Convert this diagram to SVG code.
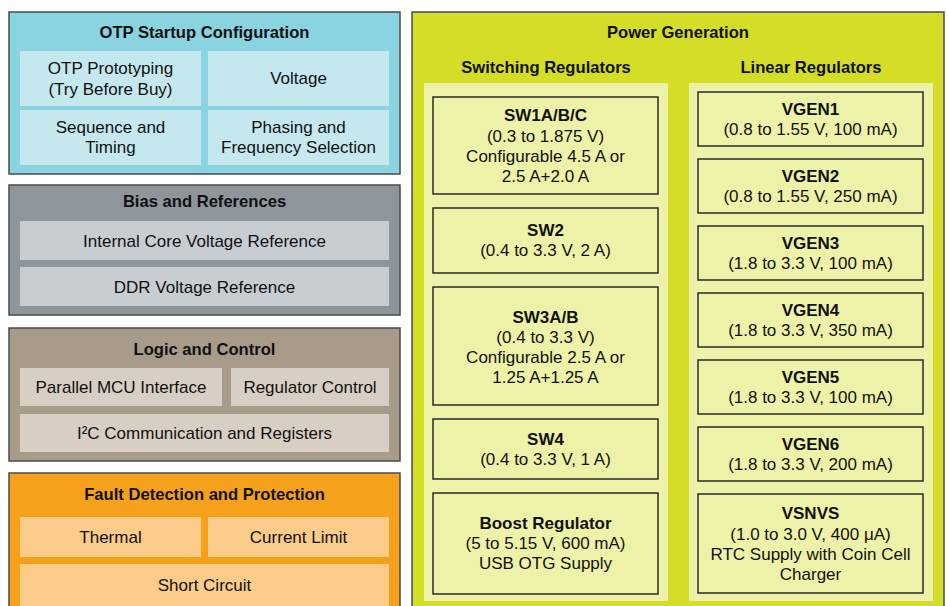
<svg xmlns="http://www.w3.org/2000/svg" width="948" height="606" viewBox="0 0 948 606">
<style>
text{font-family:"Liberation Sans",Arial,Helvetica,sans-serif;font-size:17px;fill:#111;text-anchor:middle}
.b{font-weight:bold}
.t{font-weight:bold;font-size:16.6px}
.outer{stroke:#4a4a4a;stroke-width:1.5}
.box{fill:#eef2a8;stroke:#2a2a2a;stroke-width:1.5}
.col{fill:#eef2a8}
.otp{fill:#c5e8ee}.bias{fill:#c8cdd2}.logic{fill:#d8cfc4}.fault{fill:#fbcb8a}
</style>
<rect width="948" height="606" fill="#fff"/>
<g id="otp">
<rect class="outer" x="9" y="12" width="391" height="162" fill="#8ad3e0"/>
<text class="t" x="204.5" y="38">OTP Startup Configuration</text>
<rect class="otp" x="20" y="51" width="181" height="55"/>
<rect class="otp" x="208" y="51" width="181" height="55"/>
<rect class="otp" x="20" y="110" width="181" height="55"/>
<rect class="otp" x="208" y="110" width="181" height="55"/>
<text x="110.5" y="74">OTP Prototyping</text><text x="110.5" y="94.5">(Try Before Buy)</text>
<text x="298.5" y="84">Voltage</text>
<text x="110.5" y="133">Sequence and</text><text x="110.5" y="153">Timing</text>
<text x="298.5" y="133">Phasing and</text><text x="298.5" y="153">Frequency Selection</text>
</g>
<g id="bias">
<rect class="outer" x="9" y="185" width="391" height="130" fill="#8e959b"/>
<text class="t" x="204.5" y="207">Bias and References</text>
<rect class="bias" x="20" y="221" width="369" height="39"/>
<rect class="bias" x="20" y="267" width="369" height="39"/>
<text x="204.5" y="246.5">Internal Core Voltage Reference</text>
<text x="204.5" y="292.5">DDR Voltage Reference</text>
</g>
<g id="logic">
<rect class="outer" x="9" y="328" width="391" height="133" fill="#a89b8a"/>
<text class="t" x="204.5" y="355">Logic and Control</text>
<rect class="logic" x="20" y="368" width="202" height="38"/>
<rect class="logic" x="231" y="368" width="158" height="38"/>
<rect class="logic" x="20" y="414" width="369" height="38"/>
<text x="121" y="393">Parallel MCU Interface</text>
<text x="310" y="393">Regulator Control</text>
<text x="204.5" y="439">I²C Communication and Registers</text>
</g>
<g id="fault">
<rect class="outer" x="9" y="473" width="391" height="140" fill="#f5a11c"/>
<text class="t" x="204.5" y="500">Fault Detection and Protection</text>
<rect class="fault" x="20" y="517" width="181" height="40"/>
<rect class="fault" x="208" y="517" width="181" height="40"/>
<rect class="fault" x="20" y="564" width="369" height="42"/>
<text x="110.5" y="543">Thermal</text>
<text x="298.5" y="543">Current Limit</text>
<text x="204.5" y="591">Short Circuit</text>
</g>
<g id="power">
<rect class="outer" x="412" y="12" width="532" height="604" fill="#d4de26"/>
<text class="t" x="678" y="38">Power Generation</text>
<text class="t" x="546" y="73">Switching Regulators</text>
<text class="t" x="811" y="73">Linear Regulators</text>
<rect class="col" x="424" y="83" width="244" height="518"/>
<rect class="col" x="689" y="83" width="244" height="518"/>
</g>
<g id="sw1"><rect class="box" x="433" y="97" width="225" height="97"/>
<text class="b" x="545.5" y="121">SW1A/B/C</text><text x="545.5" y="141.5">(0.3 to 1.875 V)</text><text x="545.5" y="161.5">Configurable 4.5 A or</text><text x="545.5" y="181.5">2.5 A+2.0 A</text></g>
<g id="sw2"><rect class="box" x="433" y="208" width="225" height="65"/>
<text class="b" x="545.5" y="236">SW2</text><text x="545.5" y="256">(0.4 to 3.3 V, 2 A)</text></g>
<g id="sw3"><rect class="box" x="433" y="287" width="225" height="118"/>
<text class="b" x="545.5" y="322.5">SW3A/B</text><text x="545.5" y="342.5">(0.4 to 3.3 V)</text><text x="545.5" y="362.5">Configurable 2.5 A or</text><text x="545.5" y="382.5">1.25 A+1.25 A</text></g>
<g id="sw4"><rect class="box" x="433" y="419" width="225" height="60"/>
<text class="b" x="545.5" y="444.5">SW4</text><text x="545.5" y="464.5">(0.4 to 3.3 V, 1 A)</text></g>
<g id="boost"><rect class="box" x="433" y="493" width="225" height="101"/>
<text class="b" x="545.5" y="528.5">Boost Regulator</text><text x="545.5" y="548.5">(5 to 5.15 V, 600 mA)</text><text x="545.5" y="568.5">USB OTG Supply</text></g>
<g id="vgen1"><rect class="box" x="698" y="92" width="225" height="54"/>
<text class="b" x="810.5" y="115">VGEN1</text><text x="810.5" y="135">(0.8 to 1.55 V, 100 mA)</text></g>
<g id="vgen2"><rect class="box" x="698" y="159" width="225" height="54"/>
<text class="b" x="810.5" y="182">VGEN2</text><text x="810.5" y="202">(0.8 to 1.55 V, 250 mA)</text></g>
<g id="vgen3"><rect class="box" x="698" y="226" width="225" height="54"/>
<text class="b" x="810.5" y="249">VGEN3</text><text x="810.5" y="269">(1.8 to 3.3 V, 100 mA)</text></g>
<g id="vgen4"><rect class="box" x="698" y="293" width="225" height="54"/>
<text class="b" x="810.5" y="316">VGEN4</text><text x="810.5" y="336">(1.8 to 3.3 V, 350 mA)</text></g>
<g id="vgen5"><rect class="box" x="698" y="360" width="225" height="54"/>
<text class="b" x="810.5" y="383">VGEN5</text><text x="810.5" y="403">(1.8 to 3.3 V, 100 mA)</text></g>
<g id="vgen6"><rect class="box" x="698" y="427" width="225" height="54"/>
<text class="b" x="810.5" y="450">VGEN6</text><text x="810.5" y="470">(1.8 to 3.3 V, 200 mA)</text></g>
<g id="vsnvs"><rect class="box" x="698" y="494" width="225" height="99"/>
<text class="b" x="810.5" y="518.5">VSNVS</text><text x="810.5" y="539.5">(1.0 to 3.0 V, 400 μA)</text><text x="810.5" y="559.5">RTC Supply with Coin Cell</text><text x="810.5" y="579.5">Charger</text></g>
<g id="connectors"></g>
</svg>
